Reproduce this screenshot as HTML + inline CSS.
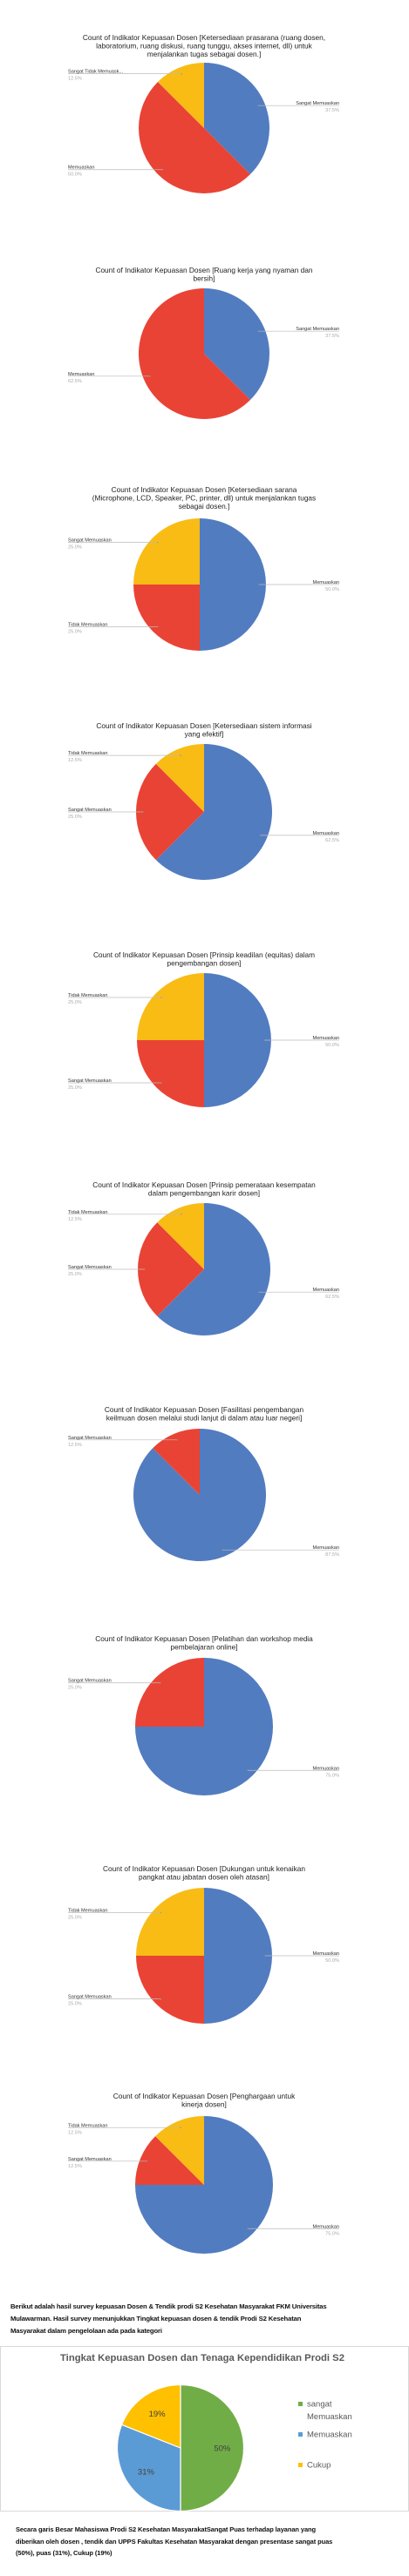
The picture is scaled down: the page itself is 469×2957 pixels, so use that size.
<!DOCTYPE html>
<html><head><meta charset="utf-8">
<style>
html,body{margin:0;padding:0;background:#fff;}
body{width:469px;height:2957px;overflow:hidden;position:relative;font-family:"Liberation Sans",Arial,sans-serif;}
svg{position:absolute;left:0;top:0;}
.para{position:absolute;font-family:"Liberation Sans",sans-serif;font-weight:bold;color:#111;white-space:nowrap;}
</style></head>
<body>
<div class="para" style="left:12px;top:2641px;font-size:7.7px;line-height:14px;letter-spacing:-0.15px;">
Berikut adalah hasil survey kepuasan Dosen &amp; Tendik prodi S2 Kesehatan Masyarakat FKM Universitas<br>
Mulawarman. Hasil survey menunjukkan Tingkat kepuasan dosen &amp; tendik Prodi S2 Kesehatan<br>
Masyarakat dalam pengelolaan ada pada kategori</div>
<div class="para" style="left:18px;top:2897px;font-size:7.5px;line-height:13.5px;letter-spacing:-0.1px;">
Secara garis Besar Mahasiswa Prodi S2 Kesehatan MasyarakatSangat Puas terhadap layanan yang<br>
diberikan oleh dosen , tendik dan UPPS Fakultas Kesehatan Masyarakat dengan presentase sangat puas<br>
(50%), puas (31%), Cukup (19%)</div>
<svg id="s" width="469" height="2957" xmlns="http://www.w3.org/2000/svg"></svg>
<script>
// ---- chart data ----
const title1 = ["Count of Indikator Kepuasan Dosen [Ketersediaan prasarana (ruang dosen,","laboratorium, ruang diskusi, ruang tunggu, akses internet, dll) untuk","menjalankan tugas sebagai dosen.]"];
const cats1 = ["Sangat Memuaskan","Memuaskan","Sangat Tidak Memuask..."];
const vals1 = [37.5,50,12.5];
const title2 = ["Count of Indikator Kepuasan Dosen [Ruang kerja yang nyaman dan","bersih]"];
const cats2 = ["Sangat Memuaskan","Memuaskan"];
const vals2 = [37.5,62.5];
const title3 = ["Count of Indikator Kepuasan Dosen [Ketersediaan sarana","(Microphone, LCD, Speaker, PC, printer, dll) untuk menjalankan tugas","sebagai dosen.]"];
const cats3 = ["Memuaskan","Tidak Memuaskan","Sangat Memuaskan"];
const vals3 = [50,25,25];
const title4 = ["Count of Indikator Kepuasan Dosen [Ketersediaan sistem informasi","yang efektif]"];
const cats4 = ["Memuaskan","Sangat Memuaskan","Tidak Memuaskan"];
const vals4 = [62.5,25,12.5];
const title5 = ["Count of Indikator Kepuasan Dosen [Prinsip keadilan (equitas) dalam","pengembangan dosen]"];
const cats5 = ["Memuaskan","Sangat Memuaskan","Tidak Memuaskan"];
const vals5 = [50,25,25];
const title6 = ["Count of Indikator Kepuasan Dosen [Prinsip pemerataan kesempatan","dalam pengembangan karir dosen]"];
const cats6 = ["Memuaskan","Sangat Memuaskan","Tidak Memuaskan"];
const vals6 = [62.5,25,12.5];
const title7 = ["Count of Indikator Kepuasan Dosen [Fasilitasi pengembangan","keilmuan dosen melalui studi lanjut di dalam atau luar negeri]"];
const cats7 = ["Memuaskan","Sangat Memuaskan"];
const vals7 = [87.5,12.5];
const title8 = ["Count of Indikator Kepuasan Dosen [Pelatihan dan workshop media","pembelajaran online]"];
const cats8 = ["Memuaskan","Sangat Memuaskan"];
const vals8 = [75,25];
const title9 = ["Count of Indikator Kepuasan Dosen [Dukungan untuk kenaikan","pangkat atau jabatan dosen oleh atasan]"];
const cats9 = ["Memuaskan","Sangat Memuaskan","Tidak Memuaskan"];
const vals9 = [50,25,25];
const title10 = ["Count of Indikator Kepuasan Dosen [Penghargaan untuk","kinerja dosen]"];
const cats10 = ["Memuaskan","Sangat Memuaskan","Tidak Memuaskan"];
const vals10 = [75,12.5,12.5];
// summary chart
const sumCats = ["sangat Memuaskan","Memuaskan","Cukup"];
const sumVals = [50,31,19];

const titles=[title1,title2,title3,title4,title5,title6,title7,title8,title9,title10];
const catsAll=[cats1,cats2,cats3,cats4,cats5,cats6,cats7,cats8,cats9,cats10];
const valsAll=[vals1,vals2,vals3,vals4,vals5,vals6,vals7,vals8,vals9,vals10];
// layout (not data)
const layout=[[234,147,75,43],[234,406,75,310],[229,671,76,562],[234,932,78,833],[234,1194,77,1096],[234,1457,76,1360],[229,1716,76,1618],[234,1982,79,1881],[234,2245,78,2145],[234,2508,79,2406]];
const colors=["#527cc0","#e94335","#f9bc15"];
const NS="http://www.w3.org/2000/svg";
const svg=document.getElementById('s');
function mk(tag,attrs,parent){const e=document.createElementNS(NS,tag);for(const k in attrs)e.setAttribute(k,attrs[k]);(parent||svg).appendChild(e);return e;}
function pt(cx,cy,r,a){return [cx+r*Math.sin(a),cy-r*Math.cos(a)];}
function arc(cx,cy,r,a0,a1){
  if(a1-a0>=2*Math.PI-1e-6){return `M${cx} ${cy-r}A${r} ${r} 0 1 1 ${cx-0.01} ${cy-r}Z`;}
  const p0=pt(cx,cy,r,a0),p1=pt(cx,cy,r,a1);const lg=(a1-a0)>Math.PI?1:0;
  return `M${cx} ${cy}L${p0[0]} ${p0[1]}A${r} ${r} 0 ${lg} 1 ${p1[0]} ${p1[1]}Z`;
}
titles.forEach((tl,i)=>{
  const [cx,cy,r,ty]=layout[i];
  const g=mk('g',{});
  
  
  const t=mk('text',{x:234,y:ty+3,'text-anchor':'middle','font-size':'8.3','fill':'#222','font-family':'Liberation Sans, sans-serif'},g);
  
  
  tl.forEach((line,j)=>{const ts=mk('tspan',{x:234,y:ty+3+j*9.5},t);ts.textContent=line;});
  const vals=valsAll[i],cats=catsAll[i];
  const tot=vals.reduce((a,b)=>a+b,0);
  let a=0;
  vals.forEach((v,k)=>{
    const a1=a+v/tot*2*Math.PI;
    const p=mk('path',{d:arc(cx,cy,r,a,a1),fill:colors[k]},g);
    
    
    const mid=(a+a1)/2;const ap=pt(cx,cy,r*0.9,mid);
    const right=Math.sin(mid)>0.001;
    const ex=right?389:78;
    mk('line',{x1:ap[0],y1:ap[1],x2:ex,y2:ap[1],stroke:'#bbb','stroke-width':'0.7'},g);
    mk('circle',{cx:ap[0],cy:ap[1],r:0.8,fill:'#999'},g);
    const lt=mk('text',{x:ex,y:ap[1]-1,'text-anchor':right?'end':'start','font-size':'5.6','fill':'#333'},g);
    
    
    lt.textContent=cats[k];
    const pc=mk('text',{x:ex,y:ap[1]+7,'text-anchor':right?'end':'start','font-size':'5.6','fill':'#aaa'},g);
    
    
    pc.textContent=(v/tot*100).toFixed(1)+'%';
    a=a1;
  });
});
// summary chart
const sg=mk('g',{});


mk('rect',{x:0.5,y:2693.5,width:468,height:189,fill:'#fff',stroke:'#d9d9d9','stroke-width':'1'},sg);
const st=mk('text',{x:232,y:2710,'text-anchor':'middle','font-size':'11.3','font-weight':'bold','fill':'#595959'},sg);


st.textContent='Tingkat Kepuasan Dosen dan Tenaga Kependidikan  Prodi S2';
const sc=["#70ad47","#5b9bd5","#ffc000"];
const scx=207,scy=2810,sr=72.5;
let sa=0;const stot=sumVals.reduce((a,b)=>a+b,0);
sumVals.forEach((v,k)=>{
  const a1=sa+v/stot*2*Math.PI;
  const p=mk('path',{d:arc(scx,scy,sr,sa,a1),fill:sc[k],stroke:'#fff','stroke-width':'1.2'},sg);
  
  
  const mid=(sa+a1)/2;const lp=pt(scx,scy,sr*0.66,mid);
  const lt=mk('text',{x:lp[0],y:lp[1]+3.5,'text-anchor':'middle','font-size':'9.5','fill':'#404040'},sg);
  
  
  lt.textContent=Math.round(v/stot*100)+'%';
  sa=a1;
});
const legY=[2761,2796,2831];
sumCats.forEach((c,k)=>{
  const lg=mk('g',{},sg);
  
  
  mk('rect',{x:342,y:legY[k]-4,width:5,height:5,fill:sc[k]},lg);
  const tx=mk('text',{x:352,y:legY[k]+1.5,'font-size':'9.5','fill':'#595959'},lg);
  if(k===0){const a1=mk('tspan',{x:352,y:legY[k]+1.5},tx);a1.textContent='sangat';const a2=mk('tspan',{x:352,y:legY[k]+16},tx);a2.textContent='Memuaskan';}
  else tx.textContent=c;
});
</script>
</body></html>
